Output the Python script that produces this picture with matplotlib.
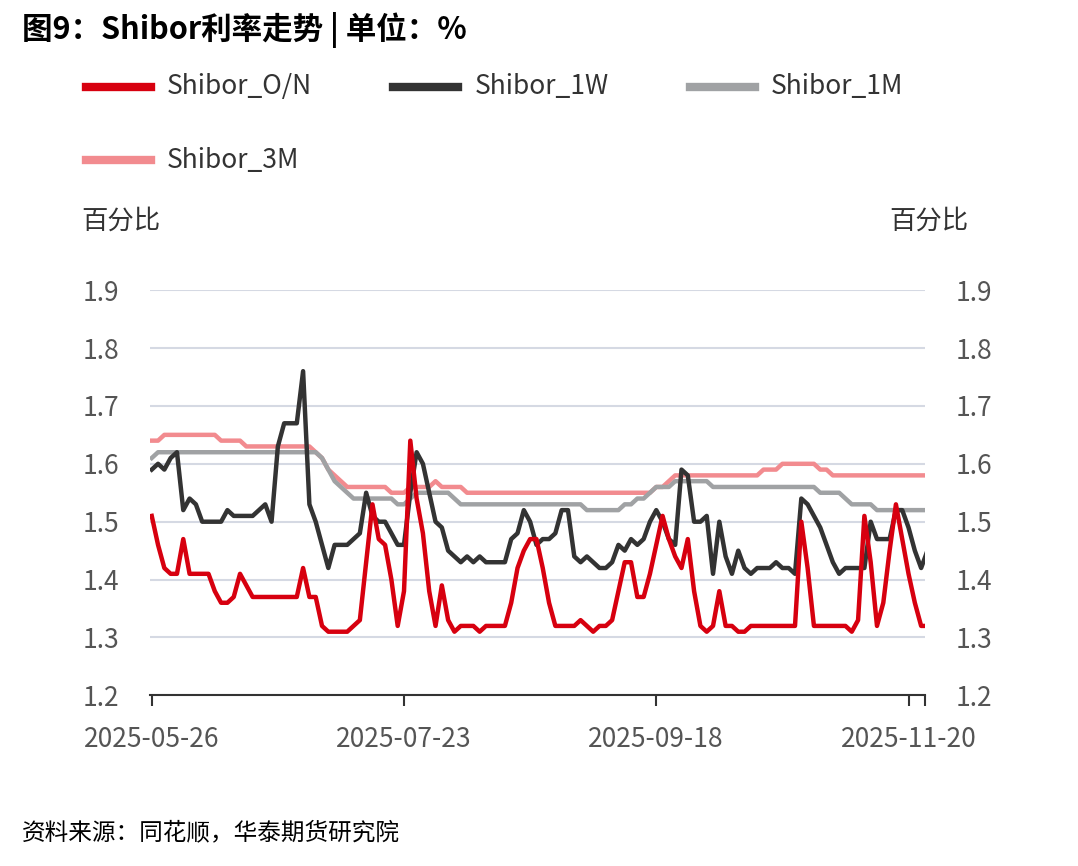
import matplotlib
matplotlib.use("Agg")
import matplotlib.pyplot as plt
import numpy as np

plt.rcParams['font.family'] = ['Noto Sans CJK SC', 'DejaVu Sans']

tick_labels = ["2025-05-26", "2025-07-23", "2025-09-18", "2025-11-20"]
tick_idx = [0, 40, 80, 120]

on = [1.51,1.46,1.42,1.41,1.41,1.47,1.41,1.41,1.41,1.41,
      1.38,1.36,1.36,1.37,1.41,1.39,1.37,1.37,1.37,1.37,
      1.37,1.37,1.37,1.37,1.42,1.37,1.37,1.32,1.31,1.31,
      1.31,1.31,1.32,1.33,1.43,1.53,1.47,1.46,1.40,1.32,
      1.38,1.64,1.54,1.48,1.38,1.32,1.39,1.33,1.31,1.32,
      1.32,1.32,1.31,1.32,1.32,1.32,1.32,1.36,1.42,1.45,
      1.47,1.47,1.42,1.36,1.32,1.32,1.32,1.32,1.33,1.32,
      1.31,1.32,1.32,1.33,1.38,1.43,1.43,1.37,1.37,1.41,
      1.46,1.51,1.47,1.44,1.42,1.47,1.38,1.32,1.31,1.32,
      1.38,1.32,1.32,1.31,1.31,1.32,1.32,1.32,1.32,1.32,
      1.32,1.32,1.32,1.50,1.42,1.32,1.32,1.32,1.32,1.32,
      1.32,1.31,1.33,1.51,1.43,1.32,1.36,1.45,1.53,1.47,
      1.41,1.36,1.32,1.32]
w1 = [1.59,1.60,1.59,1.61,1.62,1.52,1.54,1.53,1.50,1.50,
      1.50,1.50,1.52,1.51,1.51,1.51,1.51,1.52,1.53,1.50,
      1.63,1.67,1.67,1.67,1.76,1.53,1.50,1.46,1.42,1.46,
      1.46,1.46,1.47,1.48,1.55,1.51,1.50,1.50,1.48,1.46,
      1.46,1.55,1.62,1.60,1.55,1.50,1.49,1.45,1.44,1.43,
      1.44,1.43,1.44,1.43,1.43,1.43,1.43,1.47,1.48,1.52,
      1.50,1.46,1.47,1.47,1.48,1.52,1.52,1.44,1.43,1.44,
      1.43,1.42,1.42,1.43,1.46,1.45,1.47,1.46,1.47,1.50,
      1.52,1.50,1.47,1.46,1.59,1.58,1.50,1.50,1.51,1.41,
      1.50,1.44,1.41,1.45,1.42,1.41,1.42,1.42,1.42,1.43,
      1.42,1.42,1.41,1.54,1.53,1.51,1.49,1.46,1.43,1.41,
      1.42,1.42,1.42,1.42,1.50,1.47,1.47,1.47,1.52,1.52,
      1.49,1.45,1.42,1.45]
m1 = [1.61] + [1.62]*26 + [1.61,1.59,1.57,1.56,1.55] + [1.54]*7 + [1.53,1.53,1.54] \
     + [1.55]*6 + [1.54] + [1.53]*20 + [1.52]*6 + [1.53,1.53,1.54,1.54,1.55,1.56,1.56,1.56] \
     + [1.57]*6 + [1.56]*17 + [1.55]*4 + [1.54] + [1.53]*4 + [1.52]*9
m3 = [1.64,1.64] + [1.65]*9 + [1.64]*4 + [1.63]*11 + [1.62,1.61,1.59,1.58,1.57] + [1.56]*7 \
     + [1.55]*3 + [1.56]*4 + [1.57] + [1.56]*4 + [1.55]*30 + [1.56,1.56,1.57] + [1.58]*14 \
     + [1.59]*3 + [1.60]*6 + [1.59]*2 + [1.58]*16

series = [("Shibor_O/N", on, "#d7000f"), ("Shibor_1W", w1, "#333333"),
          ("Shibor_1M", m1, "#a0a2a4"), ("Shibor_3M", m3, "#f28b8f")]

fig = plt.figure(figsize=(10.78, 8.66), dpi=100)
ax = fig.add_axes([0.139, 0.197, 0.719, 0.468])
for name, vals, c in series[::-1]:
    ax.plot(np.arange(len(vals)), vals, color=c, lw=3.2, label=name, solid_joinstyle='round')
ax.set_ylim(1.2, 1.9)
ax.set_xlim(-0.3, 122.6)
yt = [1.2, 1.3, 1.4, 1.5, 1.6, 1.7, 1.8, 1.9]
ax.set_yticks(yt)
ax.set_yticklabels([f"{v:.1f}" for v in yt])
ax.grid(axis='y', color='#d5d9e3', lw=1.5)
ax.set_axisbelow(True)
for s in ['left', 'right', 'top']:
    ax.spines[s].set_visible(False)
ax.spines['bottom'].set_color('#333333')
ax.spines['bottom'].set_linewidth(1.5)
ax.tick_params(axis='y', length=0, labelsize=19, labelcolor='#555555', pad=22)
ax.set_xticks(tick_idx + [122.6])
ax.set_xticklabels(tick_labels + [""])
ax.tick_params(axis='x', length=8, width=1.5, color='#333333', labelsize=19, labelcolor='#555555', pad=14)
ax2 = ax.twinx()
ax2.set_ylim(1.2, 1.9)
ax2.set_yticks(yt)
ax2.set_yticklabels([f"{v:.1f}" for v in yt])
for s in ['left', 'right', 'top', 'bottom']:
    ax2.spines[s].set_visible(False)
ax2.tick_params(axis='y', length=0, labelsize=19, labelcolor='#555555', pad=22)

fig.text(0.02, 0.965, "图9：Shibor利率走势 | 单位：%", fontsize=22, fontweight='bold', va='center')
fig.text(0.075, 0.745, "百分比", fontsize=19, color='#333333', va='center')
fig.text(0.825, 0.745, "百分比", fontsize=19, color='#333333', va='center')
fig.text(0.02, 0.038, "资料来源：同花顺，华泰期货研究院", fontsize=17, style='italic', va='center')

pos = [(0.08, 0.90), (0.365, 0.90), (0.64, 0.90), (0.08, 0.815)]
for (n, _, c), (x, y) in zip(series, pos):
    fig.add_artist(plt.Line2D([x, x + 0.06], [y, y], color=c, lw=6, transform=fig.transFigure))
    fig.text(x + 0.075, y, n, fontsize=19, color='#333333', va='center')

fig.savefig("out.png", dpi=100)
